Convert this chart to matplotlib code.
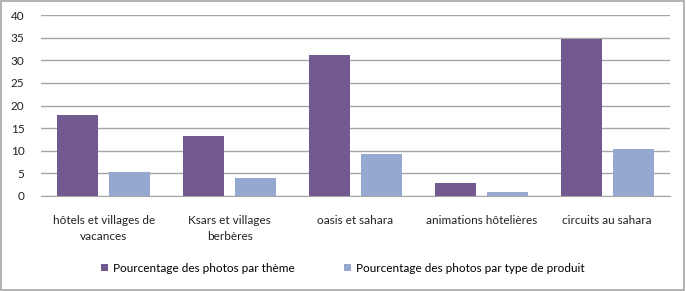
import matplotlib.pyplot as plt
import numpy as np
from matplotlib.patches import Rectangle

categories = ["hôtels et villages de\nvacances", "Ksars et villages\nberbères",
              "oasis et sahara", "animations hôtelières", "circuits au sahara"]
par_theme = [17.9, 13.3, 31.1, 2.9, 34.6]
par_produit = [5.3, 4.0, 9.3, 0.9, 10.4]
series_names = ["Pourcentage des photos par thème",
                "Pourcentage des photos par type de produit"]
yticks = [0, 5, 10, 15, 20, 25, 30, 35, 40]

plt.rcParams['font.family'] = ['Lato', 'DejaVu Sans']

fig = plt.figure(figsize=(6.86, 2.91), dpi=100)
fig.patch.set_facecolor('white')
fig.patches.append(Rectangle((0.002, 0.004), 0.995, 0.992, transform=fig.transFigure,
                             fill=False, edgecolor='#a6a6a6', linewidth=1.2))

ax = fig.add_axes([41/686, 1 - 196/291, (670-41)/686, (196-15)/291])
x = np.arange(len(categories))
w = 0.326
off = 0.207
purple = '#72598F'
blue = '#95A9D0'
b1 = ax.bar(x - off, par_theme, w, color=purple, zorder=3, label=series_names[0])
b2 = ax.bar(x + off, par_produit, w, color=blue, zorder=3, label=series_names[1])

ax.set_xlim(-0.5, len(categories) - 0.5)
ax.set_ylim(0, 40)
ax.set_yticks(yticks)
ax.yaxis.grid(True, color='#a6a6a6', linewidth=1.0, zorder=0)
for s in ['top', 'right', 'left']:
    ax.spines[s].set_visible(False)
ax.spines['bottom'].set_color('#a6a6a6')
ax.tick_params(axis='y', length=0, pad=12, labelsize=8.5, colors='#222222')
ax.tick_params(axis='x', length=0, pad=14, labelsize=8.5, colors='#222222')
ax.set_xticks(x)
ax.set_xticklabels(categories, linespacing=1.55)

leg = fig.legend(handles=[b1, b2], loc='center', bbox_to_anchor=(0.5, 1 - 268/291),
                 ncol=2, frameon=False, fontsize=8.5, handlelength=0.6, handleheight=0.6,
                 columnspacing=4.2, handletextpad=0.4)

fig.savefig('out.png', dpi=100, facecolor='white')
